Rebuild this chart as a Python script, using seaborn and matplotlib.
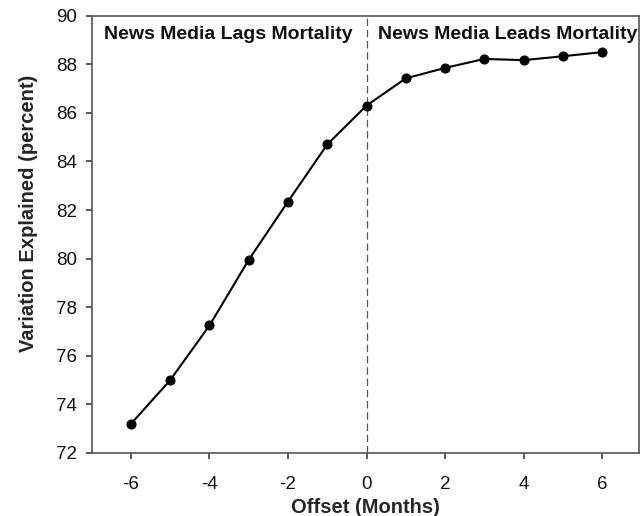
"""Variation explained vs. news media offset."""

import matplotlib

matplotlib.use("Agg")
import matplotlib.pyplot as plt
import pandas as pd
import seaborn as sns

OFFSET_MONTHS = [-6, -5, -4, -3, -2, -1, 0, 1, 2, 3, 4, 5, 6]
VARIATION_EXPLAINED = [73.2, 75.0, 77.25, 79.95, 82.35, 84.7, 86.3,
                       87.42, 87.85, 88.22, 88.17, 88.33, 88.5]
X_TICKS = [-6, -4, -2, 0, 2, 4, 6]
Y_TICKS = [72, 74, 76, 78, 80, 82, 84, 86, 88, 90]

sns.set_theme(style="ticks")
plt.rcParams["font.family"] = ["Liberation Sans", "DejaVu Sans"]
plt.rcParams["axes.unicode_minus"] = False

data = pd.DataFrame({"offset": OFFSET_MONTHS, "explained": VARIATION_EXPLAINED})

fig = plt.figure(figsize=(6.43, 5.16), dpi=100)
ax = fig.add_axes([0.1426, 0.1221, 0.8512, 0.8475])

ax.axvline(0, color="#555555", linestyle=(0, (6, 3)), linewidth=0.9, zorder=1)
sns.lineplot(
    data=data,
    x="offset",
    y="explained",
    color="black",
    linewidth=1.5,
    marker="o",
    markersize=6.5,
    markeredgecolor="black",
    ax=ax,
    zorder=3,
)

ax.set_xlim(-7, 6.94)
ax.set_ylim(72, 90)
ax.set_xticks(X_TICKS)
ax.set_yticks(Y_TICKS)
ax.tick_params(axis="both", labelsize=13.5, direction="out", length=4,
               color="#444444", labelcolor="#111111", top=False, right=False)
ax.tick_params(axis="y", pad=6.5)
ax.tick_params(axis="x", pad=12.5)
for spine in ax.spines.values():
    spine.set_visible(True)
    spine.set_color("#555555")
    spine.set_linewidth(1.2)

ax.set_xlabel("Offset (Months)", fontsize=14.5, fontweight="bold", labelpad=4)
ax.set_ylabel("Variation Explained (percent)", fontsize=14.5, fontweight="bold")
ax.yaxis.set_label_coords(-0.098, 0.549)

ax.text(-3.52, 89.04, "News Media Lags Mortality", ha="center", va="baseline",
        fontsize=14, fontweight="bold", color="#111111")
ax.text(3.6, 89.04, "News Media Leads Mortality", ha="center", va="baseline",
        fontsize=14, fontweight="bold", color="#111111")

fig.savefig("out.png", dpi=100)
plt.close(fig)
